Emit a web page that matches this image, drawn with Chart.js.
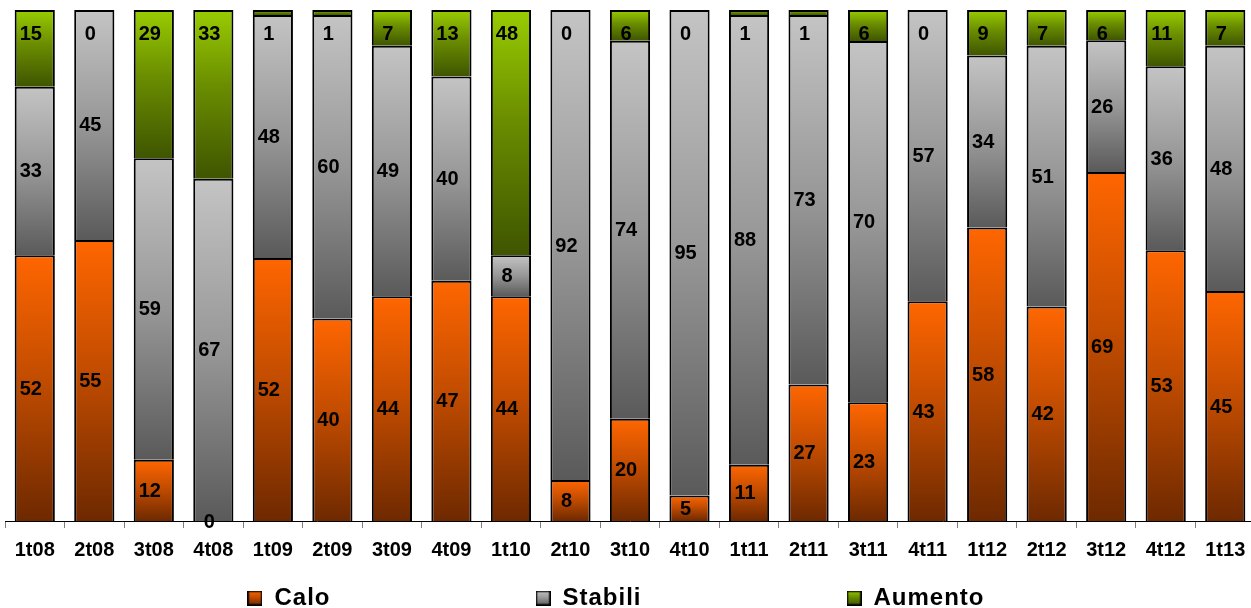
<!DOCTYPE html>
<html lang="it">
<head>
<meta charset="utf-8">
<title>Calo / Stabili / Aumento</title>
<script src="https://cdn.jsdelivr.net/npm/chart.js@4/dist/chart.umd.min.js"></script>
<style>
  html, body { margin: 0; padding: 0; background: #ffffff; overflow: hidden; }
  #wrap { width: 1251px; height: 608px; overflow: hidden; position: relative; }
  canvas { display: block; }
</style>
</head>
<body>
<div id="wrap"><canvas id="chart" width="1256" height="608"></canvas></div>
<script>
// Quarters on the x axis
const categories = ['1t08', '2t08', '3t08', '4t08', '1t09', '2t09', '3t09', '4t09', '1t10', '2t10', '3t10',
                    '4t10', '1t11', '2t11', '3t11', '4t11', '1t12', '2t12', '3t12', '4t12', '1t13'];

// Answer shares per quarter (%)
const calo    = [52, 55, 12,  0, 52, 40, 44, 47, 44,  8, 20,  5, 11, 27, 23, 43, 58, 42, 69, 53, 45];
const stabili = [33, 45, 59, 67, 48, 60, 49, 40,  8, 92, 74, 95, 88, 73, 70, 57, 34, 51, 26, 36, 48];
const aumento = [15,  0, 29, 33,  1,  1,  7, 13, 48,  0,  6,  0,  1,  1,  6,  0,  9,  7,  6, 11,  7];

const seriesNames = ['Calo', 'Stabili', 'Aumento'];
const seriesValues = [calo, stabili, aumento];

// Each column is drawn as a 100% stack, so every series is scaled by the column total
const totals = categories.map((_, i) => calo[i] + stabili[i] + aumento[i]);
const shares = seriesValues.map(vals => vals.map((v, i) => v / totals[i] * 100));

// Vertical gradients (light on top, dark at the bottom of each segment)
const gradients = [
  [[0, '#ff6600'], [0.45, '#c44d00'], [1, '#6e2900']],
  [[0, '#c4c4c4'], [0.5, '#979797'], [1, '#5a5a5a']],
  [[0, '#99cc00'], [0.45, '#6a8d00'], [1, '#3f5500']]
];

const FONT = '"Liberation Sans", Arial, Helvetica, sans-serif';

function segmentFill(d) {
  const stops = gradients[d];
  return (context) => {
    const chart = context.chart;
    const { ctx, chartArea, scales } = chart;
    if (!chartArea || context.type !== 'data' || !scales.y) return stops[0][1];
    const i = context.dataIndex;
    let start = 0;
    for (let k = 0; k < d; k++) start += shares[k][i];
    const end = start + shares[d][i];
    const top = scales.y.getPixelForValue(end);
    const bottom = scales.y.getPixelForValue(start);
    if (!(bottom - top > 0.5)) return stops[0][1];
    const g = ctx.createLinearGradient(0, top, 0, bottom);
    stops.forEach(([o, c]) => g.addColorStop(o, c));
    return g;
  };
}

// Small square swatches for the legend
function swatch(d) {
  const s = 15;
  const c = document.createElement('canvas');
  c.width = s; c.height = s;
  const x = c.getContext('2d');
  const g = x.createLinearGradient(0, 0, 0, s);
  gradients[d].forEach(([o, col]) => g.addColorStop(o, col));
  x.fillStyle = '#000';
  x.fillRect(0, 0, s, s);
  x.fillStyle = g;
  x.fillRect(1.5, 1.5, s - 3, s - 3);
  return c;
}
const swatches = [swatch(0), swatch(1), swatch(2)];

// Value labels: centred in each segment, the top series pinned near the top of the column
const valueLabels = {
  id: 'valueLabels',
  afterDatasetsDraw(chart) {
    const ctx = chart.ctx;
    ctx.save();
    ctx.font = 'bold 20px ' + FONT;
    ctx.fillStyle = '#000';
    ctx.textAlign = 'center';
    ctx.textBaseline = 'middle';
    chart.data.datasets.forEach((ds, d) => {
      const meta = chart.getDatasetMeta(d);
      meta.data.forEach((bar, i) => {
        const y = d === 2 ? bar.y + 23 : (bar.y + bar.base) / 2;
        ctx.fillText(String(seriesValues[d][i]), bar.x - 4, y + 1);
      });
    });
    ctx.restore();
  }
};

// Legend: spaced lettering, a compact box and its row placed near the bottom edge
const LEGEND_HEIGHT = 36;
const LEGEND_SPACING = '1px';
const LEGEND_CENTER_X = 616;
const legendTweaks = {
  id: 'legendTweaks',
  beforeUpdate(chart) {
    const lg = chart.legend;
    if (!lg || lg._tweaked) return;
    lg._tweaked = true;
    const fit = lg.fit.bind(lg);
    lg.fit = function () {
      const c = this.ctx;
      c.save();
      c.letterSpacing = LEGEND_SPACING;
      fit();
      c.restore();
      if (this.isHorizontal()) this.height = LEGEND_HEIGHT;
    };
    lg.draw = function () {
      if (!this.options.display) return;
      const c = this.ctx;
      const pad = this.options.labels.padding;
      const size = this.options.labels.font.size;
      const dy = (this.bottom - 10) - (this.top + pad + size / 2);
      const dx = LEGEND_CENTER_X - (this.left + this.right) / 2;
      c.save();
      c.letterSpacing = LEGEND_SPACING;
      c.translate(dx, dy);
      this._draw();
      c.restore();
    };
  }
};

new Chart(document.getElementById('chart'), {
  type: 'bar',
  data: {
    labels: categories,
    datasets: seriesNames.map((name, d) => ({
      label: name,
      data: shares[d],
      backgroundColor: segmentFill(d),
      borderColor: '#000000',
      borderWidth: 2,
      barPercentage: 0.675,
      categoryPercentage: 1.0
    }))
  },
  options: {
    responsive: false,
    animation: false,
    devicePixelRatio: 1,
    layout: { padding: { left: 5, right: 1, top: 10, bottom: 0 } },
    scales: {
      x: {
        stacked: true,
        grid: {
          offset: true,
          drawOnChartArea: false,
          drawTicks: true,
          tickLength: 7,
          color: '#808080',
          tickColor: '#808080',
          lineWidth: 1
        },
        border: { display: true, color: '#000000', width: 1 },
        ticks: {
          color: '#000000',
          font: { family: FONT, size: 20, weight: 'bold' },
          padding: 10,
          maxRotation: 0,
          autoSkip: false
        }
      },
      y: {
        stacked: true,
        display: false,
        min: 0,
        max: 100
      }
    },
    plugins: {
      tooltip: { enabled: false },
      legend: {
        display: true,
        position: 'bottom',
        labels: {
          color: '#000000',
          font: { family: FONT, size: 24, weight: 'bold' },
          usePointStyle: true,
          boxWidth: 15,
          boxHeight: 15,
          padding: 205,
          generateLabels: (chart) => seriesNames.map((name, d) => ({
            text: name,
            fontColor: '#000000',
            fillStyle: gradients[d][0][1],
            strokeStyle: '#000000',
            lineWidth: 1,
            pointStyle: swatches[d],
            hidden: false,
            datasetIndex: d
          }))
        }
      }
    }
  },
  plugins: [valueLabels, legendTweaks]
});
</script>
</body>
</html>
